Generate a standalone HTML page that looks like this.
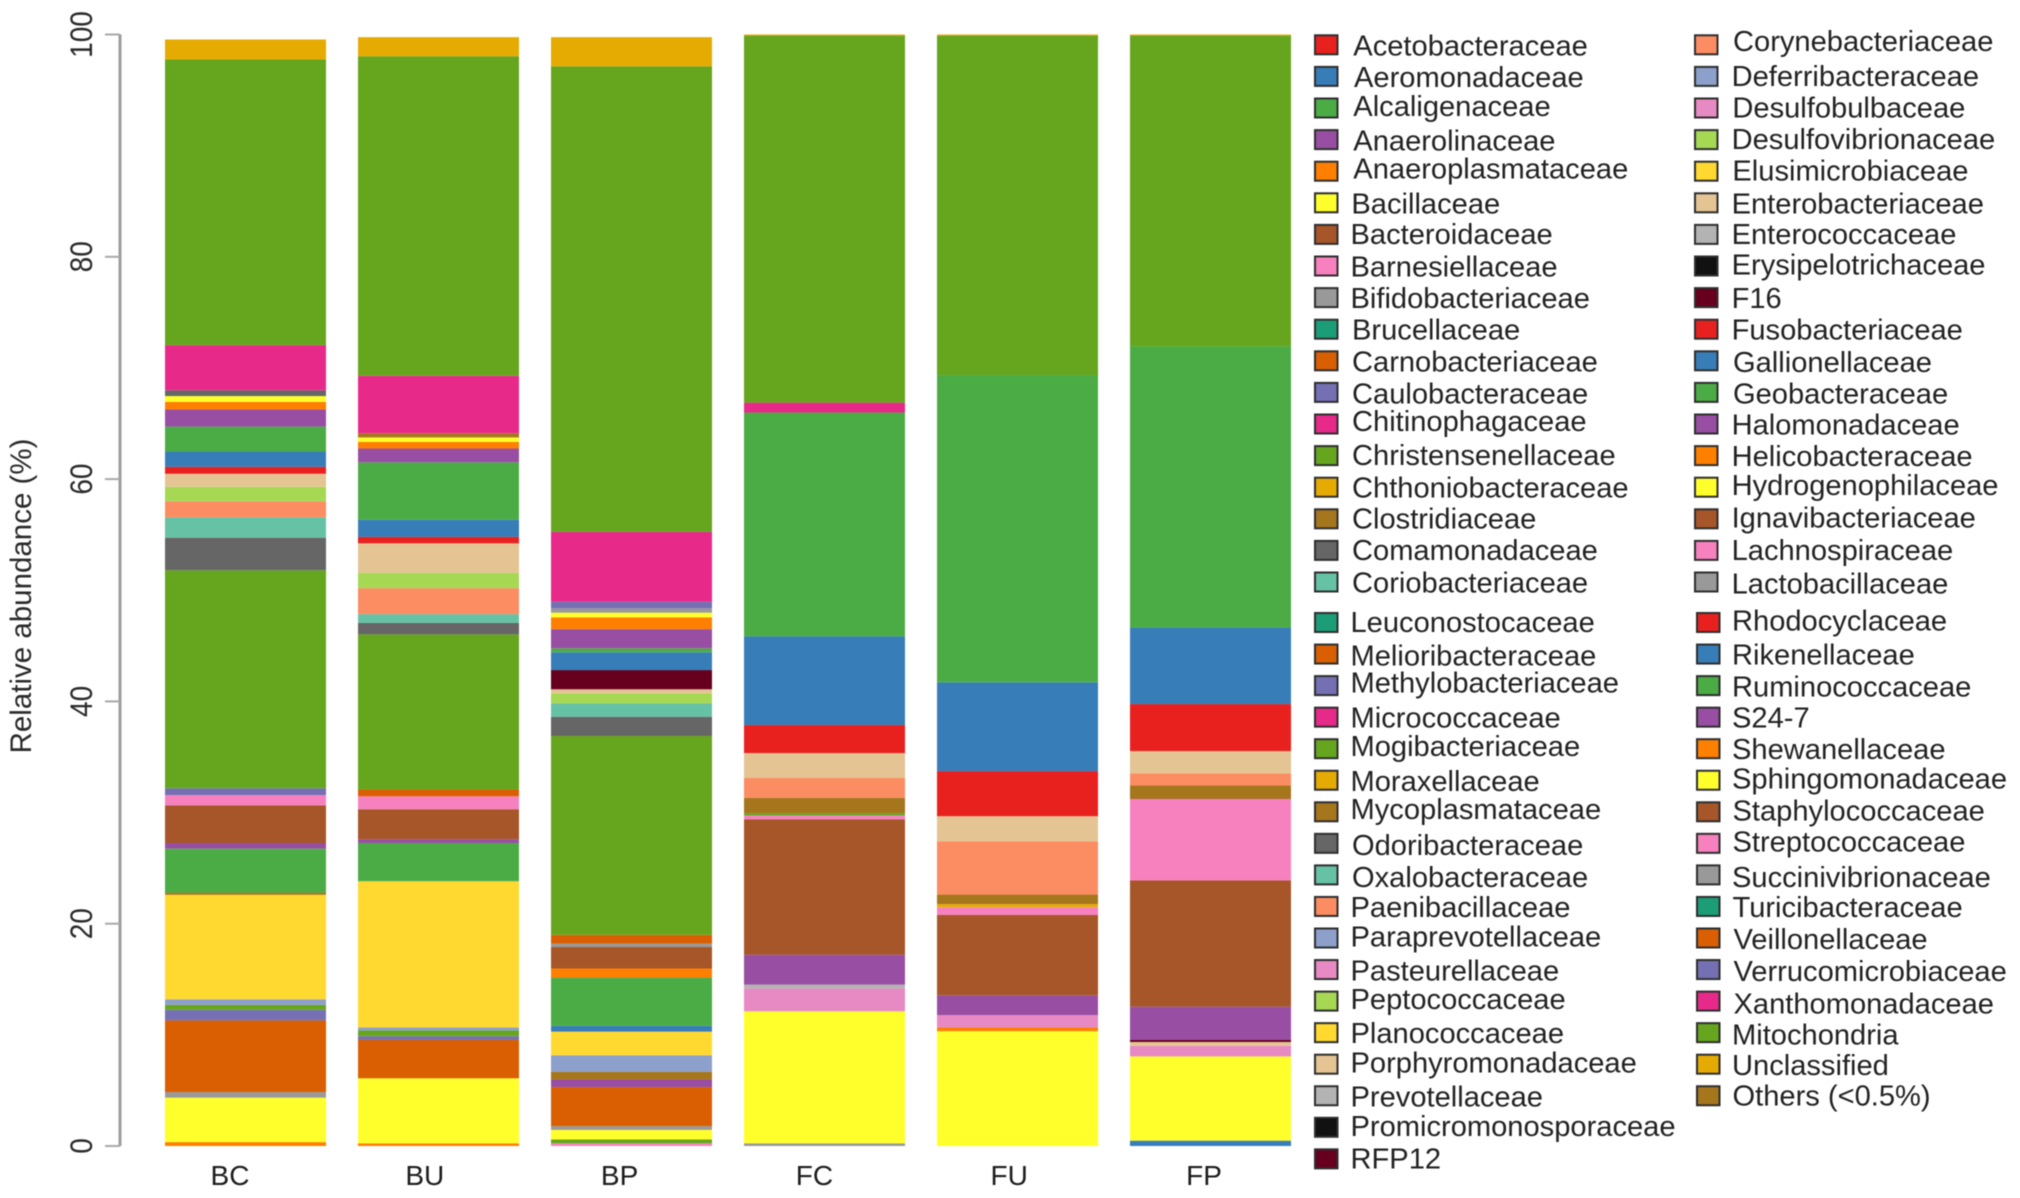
<!DOCTYPE html>
<html lang="en">
<head>
<meta charset="utf-8">
<title>Relative abundance by family</title>
<style>
html,body{margin:0;padding:0;background:#fff;}
#chart{display:block;width:2020px;height:1198px;filter:blur(0.6px);font-family:"Liberation Sans",Arial,sans-serif;}
</style>
</head>
<body>
<svg id="chart" xmlns="http://www.w3.org/2000/svg" width="2020" height="1198" viewBox="0 0 2020 1198">
<rect x="0" y="0" width="2020" height="1198" fill="#fff"/>
<g id="bars"></g>
<g id="y-axis"></g>
<g id="x-axis"></g>
<text transform="translate(31,596) rotate(-90)" text-anchor="middle" font-size="29.5" fill="#2a2a2a">Relative abundance (%)</text>
<g id="legend"></g>
</svg>
<script>
const families = ["Acetobacteraceae","Aeromonadaceae","Alcaligenaceae","Anaerolinaceae","Anaeroplasmataceae","Bacillaceae","Bacteroidaceae","Barnesiellaceae","Bifidobacteriaceae","Brucellaceae","Carnobacteriaceae","Caulobacteraceae","Chitinophagaceae","Christensenellaceae","Chthoniobacteraceae","Clostridiaceae","Comamonadaceae","Coriobacteriaceae","Corynebacteriaceae","Deferribacteraceae","Desulfobulbaceae","Desulfovibrionaceae","Elusimicrobiaceae","Enterobacteriaceae","Enterococcaceae","Erysipelotrichaceae","F16","Fusobacteriaceae","Gallionellaceae","Geobacteraceae","Halomonadaceae","Helicobacteraceae","Hydrogenophilaceae","Ignavibacteriaceae","Lachnospiraceae","Lactobacillaceae","Leuconostocaceae","Melioribacteraceae","Methylobacteriaceae","Micrococcaceae","Mogibacteriaceae","Moraxellaceae","Mycoplasmataceae","Odoribacteraceae","Oxalobacteraceae","Paenibacillaceae","Paraprevotellaceae","Pasteurellaceae","Peptococcaceae","Planococcaceae","Porphyromonadaceae","Prevotellaceae","Promicromonosporaceae","RFP12","Rhodocyclaceae","Rikenellaceae","Ruminococcaceae","S24-7","Shewanellaceae","Sphingomonadaceae","Staphylococcaceae","Streptococcaceae","Succinivibrionaceae","Turicibacteraceae","Veillonellaceae","Verrucomicrobiaceae","Xanthomonadaceae","Mitochondria","Unclassified","Others (<0.5%)"];
const paletteA = ["#e8211f","#377eb8","#4bac46","#984ea3","#ff7f00","#ffff2b","#a65628","#f781bf","#999999"];
const paletteB = ["#1b9e77","#d95f02","#7570b3","#e7298a","#66a61e","#e6ab02","#a6761d","#666666"];
const paletteC = ["#66c2a5","#fc8d62","#8da0cb","#e78ac3","#a6d854","#ffd92f","#e5c494","#b3b3b3"];
const familyColors = [...paletteA,...paletteB,...paletteC,"#111111","#67001f",...paletteA,...paletteB,...paletteC,"#111111","#67001f",...paletteA,...paletteB.slice(0,7)];

const categories = ["BC","BU","BP","FC","FU","FP"];
const yTickLabels = [0,20,40,60,80,100];

const familiesBC = ["Anaeroplasmataceae","Bacillaceae","Bifidobacteriaceae","Carnobacteriaceae","Caulobacteraceae","Christensenellaceae","Deferribacteraceae","Elusimicrobiaceae","Clostridiaceae","Geobacteraceae","Halomonadaceae","Ignavibacteriaceae","Lachnospiraceae","Methylobacteriaceae","Mogibacteriaceae","Odoribacteraceae","Oxalobacteraceae","Paenibacillaceae","Peptococcaceae","Porphyromonadaceae","Rhodocyclaceae","Rikenellaceae","Ruminococcaceae","S24-7","Shewanellaceae","Sphingomonadaceae","Comamonadaceae","Xanthomonadaceae","Mitochondria","Unclassified"];
const valuesBC = [0.35,4.00,0.50,6.45,0.95,0.45,0.50,9.40,0.20,3.95,0.51,3.38,0.93,0.62,19.61,2.93,1.83,1.44,1.31,1.17,0.62,1.38,2.24,1.55,0.68,0.52,0.52,4.06,25.71,1.79];

const familiesBU = ["Anaeroplasmataceae","Bacillaceae","Carnobacteriaceae","Caulobacteraceae","Christensenellaceae","Deferribacteraceae","Elusimicrobiaceae","Geobacteraceae","Halomonadaceae","Ignavibacteriaceae","Lachnospiraceae","Melioribacteraceae","Mogibacteriaceae","Odoribacteraceae","Oxalobacteraceae","Paenibacillaceae","Peptococcaceae","Porphyromonadaceae","Rhodocyclaceae","Rikenellaceae","Ruminococcaceae","S24-7","Shewanellaceae","Sphingomonadaceae","Mycoplasmataceae","Xanthomonadaceae","Mitochondria","Unclassified"];
const valuesBU = [0.24,5.85,3.45,0.34,0.52,0.27,13.15,3.44,0.34,2.70,1.16,0.62,13.95,1.03,0.79,2.34,1.38,2.65,0.58,1.55,5.16,1.24,0.59,0.41,0.38,5.16,28.75,1.72];

const familiesBP = ["Barnesiellaceae","Christensenellaceae","Bacillaceae","Bifidobacteriaceae","Carnobacteriaceae","Halomonadaceae","Clostridiaceae","Deferribacteraceae","Elusimicrobiaceae","Gallionellaceae","Geobacteraceae","Helicobacteraceae","Ignavibacteriaceae","Lactobacillaceae","Melioribacteraceae","Mogibacteriaceae","Odoribacteraceae","Oxalobacteraceae","Peptococcaceae","Porphyromonadaceae","RFP12","Rikenellaceae","Ruminococcaceae","S24-7","Shewanellaceae","Sphingomonadaceae","Succinivibrionaceae","Verrucomicrobiaceae","Xanthomonadaceae","Mitochondria","Unclassified"];
const valuesBP = [0.24,0.35,0.86,0.34,3.51,0.69,0.69,1.48,2.13,0.52,4.34,0.82,1.93,0.31,0.79,17.89,1.73,1.21,0.90,0.36,1.73,1.60,0.36,1.72,1.06,0.42,0.39,0.60,6.28,41.89,2.62];

const familiesFC = ["Bifidobacteriaceae","Bacillaceae","Desulfobulbaceae","Enterococcaceae","Halomonadaceae","Ignavibacteriaceae","Lachnospiraceae","Mogibacteriaceae","Mycoplasmataceae","Paenibacillaceae","Porphyromonadaceae","Rhodocyclaceae","Rikenellaceae","Ruminococcaceae","Xanthomonadaceae","Mitochondria","Unclassified"];
const valuesFC = [0.24,11.88,2.06,0.35,2.68,12.19,0.34,0.21,1.38,1.78,2.24,2.52,7.98,20.14,0.89,33.02,0.10];

const familiesFU = ["Bacillaceae","Helicobacteraceae","Desulfobulbaceae","Halomonadaceae","Ignavibacteriaceae","Lachnospiraceae","Moraxellaceae","Mycoplasmataceae","Paenibacillaceae","Porphyromonadaceae","Rhodocyclaceae","Rikenellaceae","Ruminococcaceae","Mitochondria","Unclassified"];
const valuesFU = [10.33,0.34,1.10,1.79,7.23,0.69,0.28,0.86,4.78,2.27,4.06,7.99,27.64,30.54,0.10];

const familiesFP = ["Aeromonadaceae","Bacillaceae","Desulfobulbaceae","Enterobacteriaceae","F16","Halomonadaceae","Ignavibacteriaceae","Lachnospiraceae","Mycoplasmataceae","Paenibacillaceae","Porphyromonadaceae","Rhodocyclaceae","Rikenellaceae","Ruminococcaceae","Mitochondria","Unclassified"];
const valuesFP = [0.48,7.58,0.96,0.34,0.18,2.99,11.36,7.33,1.21,1.10,2.00,4.23,6.88,25.30,27.96,0.10];

const sampleFamilies = [familiesBC,familiesBU,familiesBP,familiesFC,familiesFU,familiesFP];
const sampleValues = [valuesBC,valuesBU,valuesBP,valuesFC,valuesFU,valuesFP];

const SVG_NS = "http://www.w3.org/2000/svg";
function make(tag, parent, attrs, text) {
  const el = document.createElementNS(SVG_NS, tag);
  for (const k in attrs) el.setAttribute(k, attrs[k]);
  if (text !== undefined) el.textContent = text;
  parent.appendChild(el);
  return el;
}
function slug(s) {
  return String(s).toLowerCase().replace(/[^a-z0-9]+/g, "-").replace(/^-|-$/g, "");
}

/* axis functions */
const yScale = v => 1146 - v * 11.115;
const barLeft = i => 165 + 193 * i;
const barWidth = 161;
const xLabelCenter = i => 230 + 194.8 * i;

/* bars */
const barsLayer = document.getElementById("bars");
categories.forEach((cat, i) => {
  const group = make("g", barsLayer, {});
  
  
  let cum = 0;
  sampleValues[i].forEach((value, j) => {
    const name = sampleFamilies[i][j];
    const y1 = yScale(cum);
    const y2 = yScale(cum + value);
    const seg = make("rect", group, {
      x: barLeft(i), y: y2, width: barWidth, height: y1 - y2,
      fill: familyColors[families.indexOf(name)]
    });
    
    
    cum += value;
  });
});

/* y axis */
const yAxis = document.getElementById("y-axis");
const axisLine = make("line", yAxis, {
  x1: 120, x2: 120, y1: yScale(yTickLabels[0]), y2: yScale(yTickLabels[yTickLabels.length - 1]),
  stroke: "#9d9d9d", "stroke-width": 3
});


yTickLabels.forEach(t => {
  const tick = make("line", yAxis, {
    x1: 105, x2: 120, y1: yScale(t), y2: yScale(t), stroke: "#a8a8a8", "stroke-width": 2
  });
  
  
  const label = make("text", yAxis, {
    transform: "translate(92," + yScale(t) + ") rotate(-90) scale(1,1.14)",
    "text-anchor": "middle", "font-size": 28, fill: "#2a2a2a"
  }, String(t));
  
  
});

/* x axis labels */
const xAxis = document.getElementById("x-axis");
categories.forEach((cat, i) => {
  const label = make("text", xAxis, {
    x: xLabelCenter(i), y: 1185, "text-anchor": "middle", "font-size": 28, fill: "#1c1c1c"
  }, cat);
  
  
});

/* legend layout: the source figure has hand-placed labels, so each block carries small text nudges */
const legendBlocks = [
  {start:0,  count:18, swatchX:1315, firstY:44.8,  step:31.6,  textX:[1353.3,1354,1353.3,1353.3,1353.3,1351.4,1350.5,1350.5,1350.5,1352,1352,1352,1352,1352,1352,1352,1352,1352], nudge:[1,1,-1.5,1.5,-2,1,0,1,1,1,1,1.5,-2.5,0,1,0,0,1]},
  {start:18, count:18, swatchX:1695, firstY:44.8,  step:31.6,  textX:[1733,1731.6,1732.4,1731.6,1732.4,1731.6,1731.6,1731.6,1731.6,1731.6,1733,1733,1731.6,1731.6,1731.6,1731.6,1731.6,1731.6], nudge:[-3.5,0,0,0,0,1,0,-1,1,1,1.5,1.5,1,1,-1.5,-1,0,2]},
  {start:36, count:18, swatchX:1315, firstY:622.5, step:31.55, textX:[1350.5,1350.5,1350.5,1350.5,1350.5,1350.5,1350.5,1352,1352,1350.5,1350.5,1350.5,1350.5,1350.5,1350.5,1350.5,1350.5,1350.5], nudge:[0,2,-2.5,1,-2,1,-2.5,2,2.5,1,-1,1.5,-1.5,1,-1,1,-1,0]},
  {start:54, count:16, swatchX:1697, firstY:622.5, step:31.55, textX:[1732,1732,1732,1732,1732,1732,1732.5,1732.5,1732,1732.5,1733.5,1733.5,1733.5,1732,1732,1732.5], nudge:[-1.5,1,1.5,1,1,-1.5,-1,-1.5,2.5,1,1.5,2,3,2.5,1.5,0]}
];
const legend = document.getElementById("legend");
legendBlocks.forEach(block => {
  for (let r = 0; r < block.count; r++) {
    const idx = block.start + r;
    const cy = block.firstY + r * block.step;
    const entry = make("g", legend, {});
    
    
    const swatch = make("rect", entry, {
      x: block.swatchX, y: cy - 9.5, width: 22.5, height: 19,
      fill: familyColors[idx], stroke: "#2e2e2e", "stroke-width": 2
    });
    
    
    const label = make("text", entry, {
      x: block.textX[r], y: cy + block.nudge[r] + 9.5, "font-size": 29.1, fill: "#222"
    }, families[idx]);
    
    
  }
});
</script>
</body>
</html>
